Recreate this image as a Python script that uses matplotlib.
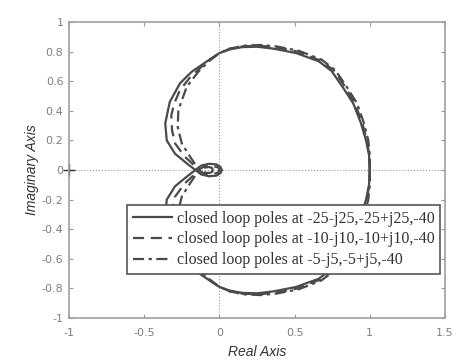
import matplotlib
matplotlib.use('Agg')
import matplotlib.pyplot as plt
import numpy as np

# Nyquist curves (upper half, omega >= 0); lower half is the mirror image
solid_x = [1.0, 0.995, 0.975, 0.94, 0.89, 0.82, 0.745, 0.66, 0.51, 0.36, 0.25, 0.15, 0.07,
           0.0, -0.06, -0.184, -0.262, -0.33, -0.36, -0.35, -0.295, -0.217, -0.16, -0.12,
           -0.07, -0.02, 0.008, 0.015]
solid_y = [0.0, 0.1, 0.2, 0.32, 0.45, 0.56, 0.67, 0.735, 0.79, 0.82, 0.833, 0.83, 0.815,
           0.79, 0.75, 0.664, 0.586, 0.46, 0.315, 0.2, 0.11, 0.045, 0.0, -0.03,
           -0.042, -0.038, -0.02, 0.0]

dash_x = [1.0, 0.997, 0.98, 0.95, 0.9, 0.835, 0.76, 0.67, 0.52, 0.37, 0.26, 0.15, 0.07,
          0.0, -0.096, -0.2, -0.262, -0.3, -0.32, -0.315, -0.295, -0.23, -0.17, -0.14,
          -0.1, -0.05, -0.01, 0.003]
dash_y = [0.0, 0.1, 0.2, 0.32, 0.45, 0.565, 0.675, 0.74, 0.8, 0.83, 0.84, 0.835, 0.82,
          0.79, 0.72, 0.62, 0.54, 0.45, 0.37, 0.27, 0.18, 0.09, 0.034, 0.0,
          -0.025, -0.03, -0.018, 0.0]

dashdot_x = [1.0, 1.0, 0.99, 0.96, 0.915, 0.846, 0.77, 0.68, 0.53, 0.38, 0.27, 0.16, 0.07,
             0.0, -0.07, -0.14, -0.217, -0.273, -0.277, -0.25, -0.195, -0.15, -0.12,
             -0.095, -0.065, -0.047, -0.045]
dashdot_y = [0.0, 0.1, 0.2, 0.32, 0.45, 0.563, 0.675, 0.745, 0.805, 0.835, 0.845, 0.84, 0.82,
             0.79, 0.735, 0.664, 0.563, 0.405, 0.29, 0.18, 0.09, 0.022, 0.0,
             -0.018, -0.02, -0.012, 0.0]

labels = ['closed loop poles at -25-j25,-25+j25,-40',
          'closed loop poles at -10-j10,-10+j10,-40',
          'closed loop poles at -5-j5,-5+j5,-40']

x_ticks = [-1, -0.5, 0, 0.5, 1, 1.5]
y_ticks = [-1, -0.8, -0.6, -0.4, -0.2, 0, 0.2, 0.4, 0.6, 0.8, 1]

fig = plt.figure(figsize=(4.7, 3.62), dpi=100)
ax = fig.add_axes([0.1468, 0.1215, 0.8, 0.8177])

curve_col = '#4a4a4a'
styles = [
    dict(ls='-', lw=1.6),
    dict(ls=(0, (5, 3)), lw=1.6),
    dict(ls=(0, (5, 2, 1.5, 2)), lw=1.6),
]
series = [(solid_x, solid_y), (dash_x, dash_y), (dashdot_x, dashdot_y)]

handles = []
for (xs, ys), st, lab in zip(series, styles, labels):
    xs = np.array(xs)
    ys = np.array(ys)
    h, = ax.plot(xs, ys, color=curve_col, label=lab, **st)
    ax.plot(xs, -ys, color=curve_col, **st)
    handles.append(h)

# axes through origin and critical point
ax.axhline(0, color='#999999', ls=':', lw=0.8, zorder=0)
ax.axvline(0, color='#999999', ls=':', lw=0.8, zorder=0)
ax.plot([-1], [0], marker='+', color='#333333', ms=8, mew=1, clip_on=False)

ax.set_xlim(-1, 1.5)
ax.set_ylim(-1, 1)
ax.set_xticks(x_ticks)
ax.set_xticklabels(['-1', '-0.5', '0', '0.5', '1', '1.5'])
ax.set_yticks(y_ticks)
ax.set_yticklabels(['-1', '-0.8', '-0.6', '-0.4', '-0.2', '0', '0.2', '0.4', '0.6', '0.8', '1'])
ax.tick_params(direction='in', top=True, right=True, length=3, width=0.8,
               colors='#999999', labelcolor='#808080', labelsize=8)
ax.tick_params(axis='x', pad=7)
ax.tick_params(axis='y', pad=4)
for sp in ax.spines.values():
    sp.set_color('#a0a0a0')
    sp.set_linewidth(1.2)

ax.set_xlabel('Real Axis', fontsize=10, style='italic', color='#333333',
              family='Liberation Sans', labelpad=5)
ax.set_ylabel('Imaginary Axis', fontsize=10, style='italic', color='#333333',
              family='Liberation Sans', labelpad=2)

leg = ax.legend(handles=handles, loc='upper right', bbox_to_anchor=(0.987, 0.382),
                borderaxespad=0, fancybox=False, framealpha=1, edgecolor='#555555',
                prop={'family': 'Liberation Serif', 'size': 11.5}, handlelength=2.45,
                handletextpad=0.3, labelspacing=0.3, borderpad=0.35)
leg.get_frame().set_linewidth(1.2)
for t in leg.get_texts():
    t.set_color('#333333')

fig.savefig('out.png', dpi=100)
